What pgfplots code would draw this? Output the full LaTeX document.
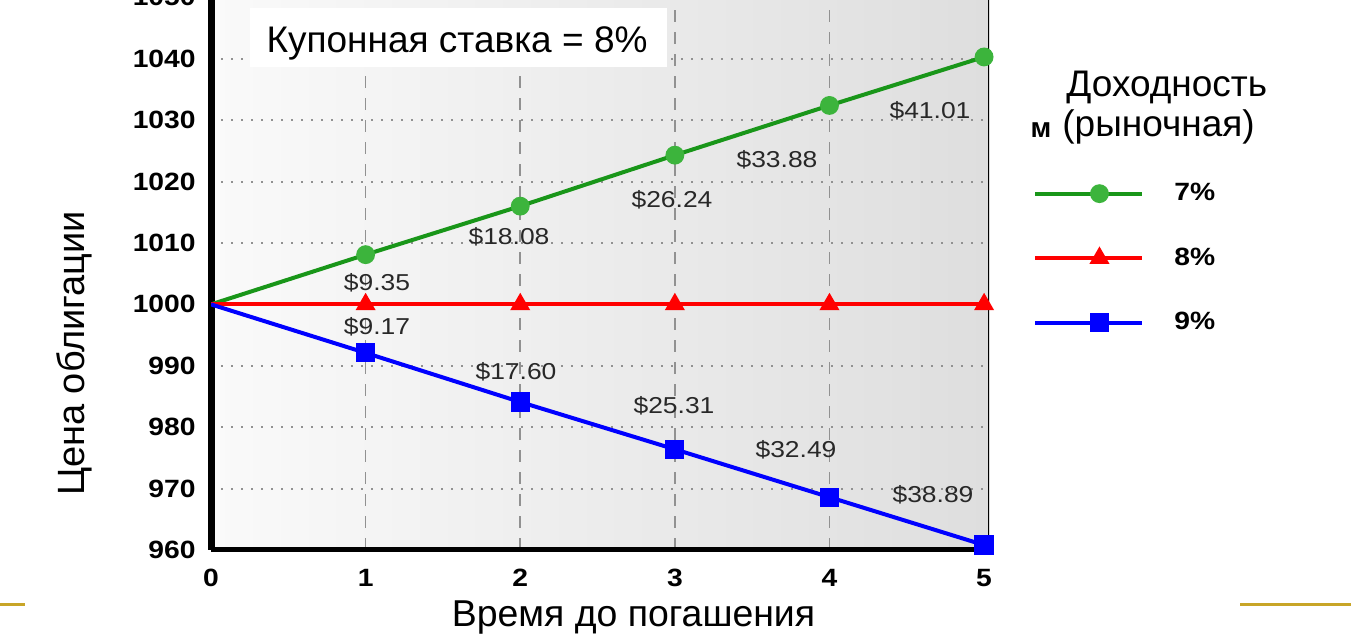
\documentclass[border=0pt]{standalone}
\usepackage{fontspec}
\setmainfont{Liberation Sans}
\newfontfamily\tickfont[FakeStretch=1.13]{Liberation Sans}
\newfontfamily\lblfont[FakeStretch=1.15]{Liberation Sans}
\usepackage{pgfplots}
\pgfplotsset{compat=1.18}
\definecolor{bgL}{RGB}{250,250,250}
\definecolor{bgR}{RGB}{222,222,222}
\definecolor{gline}{RGB}{25,150,25}
\definecolor{gmark}{RGB}{60,180,60}
\definecolor{orng}{RGB}{200,165,40}
\definecolor{lblc}{RGB}{40,40,40}
\definecolor{gridc}{RGB}{145,145,145}
\begin{document}
\begin{tikzpicture}
\begin{axis}[
  at={(105.5bp,43.5bp)}, anchor=south west,
  width=389bp, height=276.3bp, scale only axis,
  xmin=0, xmax=5.032, ymin=960, ymax=1050,
  axis lines*=left,
  x axis line style={line width=2.5bp},
  y axis line style={line width=3.5bp},
  tick style={draw=none},
  xtick={1,2,3,4}, extra x ticks={0,5}, extra x tick style={grid=none},
  ytick={970,980,...,1050}, extra y ticks={960}, extra y tick style={grid=none},
  xmajorgrids, ymajorgrids,
  x grid style={gridc, line width=0.8bp, dash pattern=on 6bp off 5bp},
  y grid style={gridc, line width=1bp, dash pattern=on 1bp off 4bp},
  /pgf/number format/assume math mode=true,
  /pgf/number format/1000 sep={},
  ticklabel style={font=\tickfont\bfseries\fontsize{12.5bp}{13bp}\selectfont, inner sep=0pt},
  xticklabel style={anchor=north, yshift=-9.5bp},
  yticklabel style={anchor=east, xshift=-7.5bp},
  axis background/.style={shade, left color=bgL, right color=bgR},
  legend image code/.code={\draw[#1, mark indices={2}] plot coordinates {(0bp,0bp) (32bp,0bp) (53.5bp,0bp)};},
  legend style={at={(1.0566,0.664)}, anchor=north west, draw=none, fill=none, inner sep=0pt,
    row sep=22bp, column sep=15bp, nodes={inner sep=0pt},
    font=\tickfont\bfseries\fontsize{12.5bp}{13bp}\selectfont},
  legend cell align=left,
]
\addplot[gline, line width=2bp, mark=*, mark size=3.7bp, mark options={fill=gmark, draw=gmark, solid}, mark indices={2,3,4,5,6}]
  coordinates {(0,1000) (1,1008.1) (2,1016.0) (3,1024.3) (4,1032.4) (5,1040.3)};
\addlegendentry{7\%}
\addplot[red, line width=2bp, mark=triangle*, mark size=3.8bp, mark options={fill=red, draw=red, solid}, mark indices={2,3,4,5,6}]
  coordinates {(0,1000) (1,1000) (2,1000) (3,1000) (4,1000) (5,1000)};
\addlegendentry{8\%}
\addplot[blue, line width=2bp, mark=square*, mark size=3.8bp, mark options={fill=blue, draw=blue, solid}, mark indices={2,3,4,5,6}]
  coordinates {(0,1000) (1,992.1) (2,984.1) (3,976.4) (4,968.6) (5,960.8)};
\addlegendentry{9\%}
\draw[black, line width=1bp] (rel axis cs:1,0) -- (rel axis cs:1,1);
\end{axis}
\begin{scope}[x=0.5bp,y=0.5bp]
  \fill[white] (250,570) rectangle (667,629);
  \node[anchor=base, inner sep=0pt, font=\fontsize{18.5bp}{20bp}\selectfont] at (457,584) {Купонная ставка = 8\%};
  \node[anchor=base, inner sep=0pt, font=\fontsize{18.7bp}{20bp}\selectfont] at (633.5,10) {Время до погашения};
  \node[rotate=90, anchor=base, inner sep=0pt, font=\fontsize{19bp}{20bp}\selectfont] at (84,283.5) {Цена облигации};
  \node[anchor=base west, inner sep=0pt, font=\fontsize{18.5bp}{20bp}\selectfont] at (1066,540) {Доходность};
  \node[anchor=base west, inner sep=0pt, font=\fontsize{18.5bp}{20bp}\selectfont] at (1062,500) {(рыночная)};
  \node[anchor=base, inner sep=0pt, font=\bfseries\fontsize{14bp}{15bp}\selectfont] at (1041,499) {м};
  \draw[orng, line width=1.5bp] (0,32) -- (25,32);
  \draw[orng, line width=1.5bp] (1240,32) -- (1351,32);
  \begin{scope}[every node/.style={inner sep=0pt, text=lblc, font=\lblfont\fontsize{11.5bp}{12bp}\selectfont}]
    \node at (377,354) {\$9.35};
    \node at (509,400) {\$18.08};
    \node at (672,437) {\$26.24};
    \node at (777,477) {\$33.88};
    \node at (930,526) {\$41.01};
    \node at (377,310) {\$9.17};
    \node at (516,265) {\$17.60};
    \node at (674,231) {\$25.31};
    \node at (796,187) {\$32.49};
    \node at (933,142) {\$38.89};
  \end{scope}
  \pgfresetboundingbox
  \useasboundingbox (0,0) rectangle (1351,637);
\end{scope}
\end{tikzpicture}
\end{document}
